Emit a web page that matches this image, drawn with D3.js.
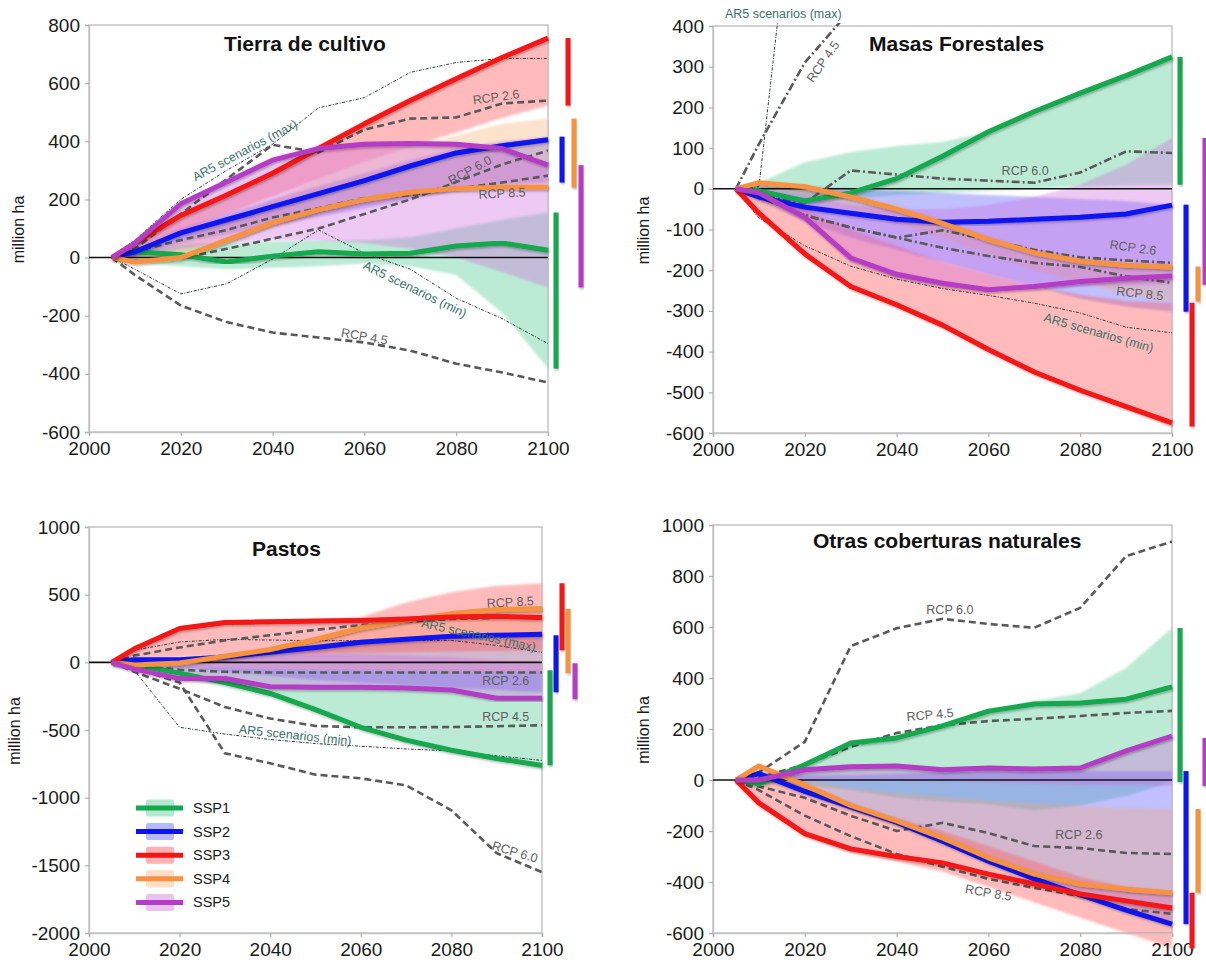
<!DOCTYPE html>
<html>
<head>
<meta charset="utf-8">
<script src="https://cdn.jsdelivr.net/npm/d3@7"></script>
<style>
  body { margin: 0; background: #fff; }
  svg text { font-family: "Liberation Sans", Arial, sans-serif; }
</style>
</head>
<body>
<svg id="chart" width="1206" height="963"></svg>
<script>
// years shared by every series
var years = [2005, 2010, 2020, 2030, 2040, 2050, 2060, 2070, 2080, 2090, 2100];
var sspNames = ["SSP1", "SSP2", "SSP3", "SSP4", "SSP5"];

// ---- Tierra de cultivo ----
var cropSSP1 = [0, 20, 10, -15, 5, 20, 12, 15, 40, 50, 25];
var cropSSP2 = [0, 20, 85, 130, 175, 220, 265, 315, 360, 385, 405];
var cropSSP3 = [0, 50, 145, 215, 290, 375, 460, 540, 615, 688, 755];
var cropSSP4 = [0, -15, 0, 60, 120, 165, 200, 225, 238, 242, 242];
var cropSSP5 = [0, 50, 185, 260, 335, 375, 390, 392, 390, 375, 318];
var cropLo = [
  [0, -15, -30, -40, -35, -30, -20, -30, -60, -190, -382],
  [0, 5, 50, 80, 110, 140, 170, 200, 230, 250, 258],
  [0, 15, 90, 150, 210, 270, 330, 380, 430, 480, 523],
  [0, -20, -5, 50, 100, 145, 180, 205, 228, 236, 240],
  [0, 0, 30, 50, 60, 60, 50, 30, 0, -50, -103]
];
var cropHi = [
  [0, 30, 45, 50, 55, 60, 60, 70, 100, 130, 155],
  [0, 30, 100, 150, 200, 245, 290, 335, 375, 400, 416],
  [0, 55, 155, 225, 300, 385, 470, 550, 625, 695, 755],
  [0, 10, 60, 130, 200, 270, 330, 380, 420, 460, 478],
  [0, 55, 190, 270, 345, 385, 395, 395, 392, 380, 318]
];
var cropRCP26 = [0, 30, 150, 270, 388, 362, 440, 478, 482, 530, 540];
var cropRCP45 = [0, -60, -165, -222, -258, -275, -292, -320, -365, -395, -430];
var cropRCP60 = [0, -10, -3, 30, 65, 100, 150, 200, 260, 320, 368];
var cropRCP85 = [0, 20, 60, 95, 138, 170, 205, 215, 237, 258, 282];
var cropAR5max = [0, 60, 200, 300, 390, 515, 550, 637, 671, 685, 685];
var cropAR5min = [0, -40, -125, -90, -5, 95, 15, -40, -140, -210, -296];

// ---- Masas Forestales ----
var forSSP1 = [0, -5, -30, -10, 25, 80, 140, 190, 235, 278, 324];
var forSSP2 = [0, -20, -45, -60, -75, -82, -80, -75, -70, -62, -40];
var forSSP3 = [0, -60, -160, -240, -285, -335, -395, -450, -495, -535, -575];
var forSSP4 = [0, 15, 5, -20, -50, -85, -125, -157, -178, -188, -192];
var forSSP5 = [0, -10, -70, -170, -210, -232, -248, -240, -228, -220, -214];
var forLo = [
  [0, -10, -35, -25, -15, -10, -5, 0, 5, 8, 10],
  [0, -30, -80, -120, -150, -180, -210, -240, -270, -290, -302],
  [0, -65, -165, -245, -290, -340, -400, -455, -500, -540, -584],
  [0, 0, -20, -50, -85, -120, -160, -200, -230, -260, -277],
  [0, -15, -80, -180, -220, -240, -250, -248, -240, -238, -236]
];
var forHi = [
  [0, 15, 65, 90, 105, 115, 140, 190, 235, 278, 324],
  [0, 5, 5, 0, -5, -10, -15, -20, -25, -30, -39],
  [0, -10, -50, -100, -140, -180, -210, -240, -260, -275, -280],
  [0, 18, 10, -10, -40, -75, -115, -150, -175, -188, -191],
  [0, 0, -20, -40, -50, -50, -40, -20, 10, 60, 125]
];
var forRCP26 = [0, -20, -65, -95, -120, -102, -125, -150, -168, -176, -182];
var forRCP45 = [0, 110, 310, 440, null, null, null, null, null, null, null];
var forRCP60 = [0, -15, -35, 45, 35, 25, 20, 15, 40, 92, 88];
var forRCP85 = [0, -20, -65, -95, -120, -145, -165, -182, -192, -215, -231];
var forAR5max = [0, 5, 1000, null, null, null, null, null, null, null, null];
var forAR5min = [0, -72, -140, -190, -222, -245, -262, -281, -305, -340, -354];

// ---- Pastos ----
var pasSSP1 = [0, -20, -80, -150, -230, -350, -480, -575, -650, -710, -762];
var pasSSP2 = [0, 20, 20, 40, 75, 110, 148, 170, 192, 200, 207];
var pasSSP3 = [0, 100, 250, 295, 300, 305, 310, 320, 335, 340, 332];
var pasSSP4 = [0, -20, -5, 45, 95, 170, 255, 310, 360, 390, 398];
var pasSSP5 = [0, -50, -120, -120, -180, -185, -185, -190, -205, -265, -265];
var pasLo = [
  [0, -25, -85, -155, -235, -355, -485, -580, -655, -715, -761],
  [0, -10, -40, -70, -100, -130, -150, -170, -190, -205, -221],
  [0, 20, 40, 50, 60, 65, 70, 75, 80, 85, 89],
  [0, -20, -30, -40, -50, -55, -60, -65, -70, -75, -81],
  [0, -55, -125, -125, -185, -190, -190, -195, -210, -270, -273]
];
var pasHi = [
  [0, -10, -30, -40, -50, -55, -55, -57, -58, -59, -59],
  [0, 25, 25, 45, 80, 115, 152, 175, 195, 202, 200],
  [0, 105, 255, 300, 305, 312, 335, 443, 517, 565, 584],
  [0, -10, 5, 50, 100, 175, 260, 315, 365, 390, 395],
  [0, 10, 30, 50, 60, 65, 60, 50, 40, 15, -7]
];
var pasRCP26 = [0, -20, -55, -70, -75, -75, -75, -75, -75, -75, -75];
var pasRCP45 = [0, -70, -195, -330, -415, -470, -480, -480, -478, -472, -465];
var pasRCP60 = [0, -40, -150, -672, -746, -830, -857, -909, -1093, -1410, -1551];
var pasRCP85 = [0, 50, 110, 162, 200, 240, 275, 300, 320, 330, 340];
var pasAR5max = [0, 90, 150, 170, 165, 160, 160, 162, 162, 125, 74];
var pasAR5min = [0, -60, -480, -530, -570, -600, -620, -640, -655, -690, -725];

// ---- Otras coberturas naturales ----
var othSSP1 = [0, -15, 60, 145, 165, 212, 270, 298, 302, 317, 365];
var othSSP2 = [0, 25, -45, -105, -165, -240, -318, -388, -450, -510, -565];
var othSSP3 = [0, -90, -210, -270, -300, -325, -369, -408, -447, -474, -502];
var othSSP4 = [0, 55, -20, -100, -160, -227, -305, -369, -408, -428, -442];
var othSSP5 = [0, 0, 40, 52, 55, 40, 47, 43, 47, 114, 172];
var othLo = [
  [0, -20, -20, -40, -70, -85, -95, -120, -100, -63, -8],
  [0, 20, -50, -110, -170, -245, -320, -390, -455, -515, -565],
  [0, -100, -220, -285, -320, -360, -420, -480, -540, -600, -660],
  [0, 50, -25, -105, -165, -230, -308, -372, -410, -430, -442],
  [0, -10, 0, 0, 0, -5, -10, -15, -20, -22, -24]
];
var othHi = [
  [0, 0, 70, 150, 175, 220, 275, 310, 340, 440, 596],
  [0, 30, 20, 20, 25, 30, 35, 35, 35, 35, 35],
  [0, 10, -20, -90, -150, -200, -260, -320, -380, -420, -442],
  [0, 60, 0, -30, -50, -65, -80, -90, -100, -110, -114],
  [0, 5, 42, 55, 58, 45, 50, 45, 50, 118, 165]
];
var othRCP26 = [0, -25, -70, -140, -200, -168, -208, -259, -267, -286, -290];
var othRCP45 = [0, 10, 60, 130, 184, 215, 231, 240, 251, 263, 271];
var othRCP60 = [0, 30, 150, 525, 595, 632, 612, 597, 675, 878, 935];
var othRCP85 = [0, -40, -140, -220, -290, -340, -388, -423, -455, -506, -525];

// annotation texts: [text, year, value, angle, kind]
var cropLabels = [
  ["AR5 scenarios (max)", 2034, 368, -28, "ar5"],
  ["RCP 2.6", 2088.7, 551, -8, "rcp"],
  ["RCP 6.0", 2083, 300, -28, "rcp"],
  ["RCP 8.5", 2090, 220, -3, "rcp"],
  ["AR5 scenarios (min)", 2071, -110, 26, "ar5"],
  ["RCP 4.5", 2060, -272, 10, "rcp"]
];
var forLabels = [
  ["AR5 scenarios (max)", 2015.3, 430, 0, "ar5"],
  ["RCP 4.5", 2024, 312, -55, "rcp"],
  ["RCP 6.0", 2068, 44, 0, "rcp"],
  ["RCP 2.6", 2091.5, -145, 8, "rcp"],
  ["RCP 8.5", 2093, -258, 6, "rcp"],
  ["AR5 scenarios (min)", 2084, -354, 16, "ar5"]
];
var pasLabels = [
  ["RCP 8.5", 2093, 443, -3, "rcp"],
  ["AR5 scenarios (max)", 2086, 200, 12, "ar5"],
  ["RCP 2.6", 2092, -140, 0, "rcp"],
  ["RCP 4.5", 2092, -406, 0, "rcp"],
  ["AR5 scenarios (min)", 2045.5, -539, 6, "ar5"],
  ["RCP 6.0", 2094, -1403, 17, "rcp"]
];
var othLabels = [
  ["RCP 6.0", 2051.6, 667, 0, "rcp"],
  ["RCP 4.5", 2047.3, 255, -5, "rcp"],
  ["RCP 2.6", 2079.7, -216, 0, "rcp"],
  ["RCP 8.5", 2060, -443, 10, "rcp"]
];

var lineColors = ["#12a84e", "#0a14f0", "#f51414", "#f7923f", "#b53cc6"];
var bandColors = ["#37c17f", "#5a5aff", "#ff5c5c", "#f9a566", "#cd6ade"];
var bandOpacity = [0.33, 0.38, 0.42, 0.32, 0.36];
var drawOrder = [0, 1, 3, 2, 4];
var barOffsets = [8, 14, 20, 26, 33];

var panels = [
  { id: 1, title: "Tierra de cultivo", left: 89, right: 548, top: 25, bottom: 432,
    yDomain: [-600, 800], step: 200, titleX: 224, titleY: 51, labelX: 18,
    ssp: [cropSSP1, cropSSP2, cropSSP3, cropSSP4, cropSSP5], lo: cropLo, hi: cropHi,
    rcp: [cropRCP26, cropRCP45, cropRCP60, cropRCP85], ar5: [cropAR5max, cropAR5min],
    dashDot: false, labels: cropLabels },
  { id: 2, title: "Masas Forestales", left: 713, right: 1172, top: 26, bottom: 433,
    yDomain: [-600, 400], step: 100, titleX: 869, titleY: 51, labelX: 643,
    ssp: [forSSP1, forSSP2, forSSP3, forSSP4, forSSP5], lo: forLo, hi: forHi,
    rcp: [forRCP26, forRCP45, forRCP60, forRCP85], ar5: [forAR5max, forAR5min],
    dashDot: true, labels: forLabels },
  { id: 3, title: "Pastos", left: 89, right: 542, top: 527, bottom: 933,
    yDomain: [-2000, 1000], step: 500, titleX: 252, titleY: 556, labelX: 14,
    ssp: [pasSSP1, pasSSP2, pasSSP3, pasSSP4, pasSSP5], lo: pasLo, hi: pasHi,
    rcp: [pasRCP26, pasRCP45, pasRCP60, pasRCP85], ar5: [pasAR5max, pasAR5min],
    dashDot: false, labels: pasLabels, legend: true },
  { id: 4, title: "Otras coberturas naturales", left: 713, right: 1172, top: 525, bottom: 933,
    yDomain: [-600, 1000], step: 200, titleX: 813, titleY: 548, labelX: 643,
    ssp: [othSSP1, othSSP2, othSSP3, othSSP4, othSSP5], lo: othLo, hi: othHi,
    rcp: [othRCP26, othRCP45, othRCP60, othRCP85], ar5: [],
    dashDot: false, labels: othLabels }
];

var svg = d3.select("#chart");
var defs = svg.append("defs");

var sh = defs.append("filter").attr("id", "shadow")
  .attr("x", "-10%").attr("y", "-10%").attr("width", "120%").attr("height", "120%");
sh.append("feDropShadow").attr("dx", 1.2).attr("dy", 1.5).attr("stdDeviation", 1.2)
  .attr("flood-color", "#000").attr("flood-opacity", 0.3);

var soft = defs.append("filter").attr("id", "soft");
soft.append("feGaussianBlur").attr("stdDeviation", 0.9);

// plain hyphen for negatives, as in the original figure
function plainNum(d) { return String(d); }

function zipSeries(vals) {
  return years.map(function (yr, i) { return [yr, vals[i]]; });
}

function drawPanel(p) {
  var x = d3.scaleLinear().domain([2000, 2100]).range([p.left, p.right]);
  var y = d3.scaleLinear().domain(p.yDomain).range([p.bottom, p.top]);
  var g = svg.append("g");

  defs.append("clipPath").attr("id", "clip" + p.id)
    .append("rect")
    .attr("x", p.left).attr("y", p.top - 3)
    .attr("width", p.right - p.left).attr("height", p.bottom - p.top + 3);

  // frame
  g.append("rect")
    .attr("x", p.left).attr("y", p.top)
    .attr("width", p.right - p.left).attr("height", p.bottom - p.top)
    .attr("fill", "none").attr("stroke", "#c4c4c4").attr("stroke-width", 1.5);

  // uncertainty bands
  var area = d3.area()
    .x(function (d) { return x(d.year); })
    .y0(function (d) { return y(d.lo); })
    .y1(function (d) { return y(d.hi); });
  drawOrder.forEach(function (k) {
    var rows = years.map(function (yr, i) { return { year: yr, lo: p.lo[k][i], hi: p.hi[k][i] }; });
    g.append("path").datum(rows)
      .attr("d", area)
      .attr("fill", bandColors[k]).attr("fill-opacity", bandOpacity[k])
      .attr("filter", "url(#soft)");
  });

  // axes
  var yTicks = d3.range(p.yDomain[0], p.yDomain[1] + 1, p.step);
  var yAxis = g.append("g").attr("transform", "translate(" + p.left + ",0)")
    .call(d3.axisLeft(y).tickValues(yTicks).tickFormat(plainNum).tickSize(4).tickPadding(5));
  var xAxis = g.append("g").attr("transform", "translate(0," + p.bottom + ")")
    .call(d3.axisBottom(x).tickValues([2000, 2020, 2040, 2060, 2080, 2100]).tickFormat(plainNum).tickSize(4).tickPadding(6));
  [yAxis, xAxis].forEach(function (a) {
    a.select(".domain").attr("stroke", "#c4c4c4").attr("stroke-width", 1.5);
    a.selectAll(".tick line").attr("stroke", "#b0b0b0").attr("stroke-width", 1.2);
    a.selectAll(".tick text").attr("fill", "#1a1a1a").attr("font-size", 19)
      .style("font-family", '"Liberation Sans", Arial, sans-serif');
  });

  // zero line
  g.append("line")
    .attr("x1", x(2000)).attr("x2", x(2100))
    .attr("y1", y(0)).attr("y2", y(0))
    .attr("stroke", "#111").attr("stroke-width", 1.6);

  var line = d3.line()
    .defined(function (d) { return d[1] != null; })
    .x(function (d) { return x(d[0]); })
    .y(function (d) { return y(d[1]); });

  var clipped = g.append("g").attr("clip-path", "url(#clip" + p.id + ")");

  // AR5 envelope
  p.ar5.forEach(function (vals) {
    clipped.append("path").datum(zipSeries(vals))
      .attr("d", line).attr("fill", "none")
      .attr("stroke", "#2b3b38").attr("stroke-width", 1)
      .attr("stroke-dasharray", "3,1.5,1,1.5");
  });

  // RCP pathways
  p.rcp.forEach(function (vals) {
    clipped.append("path").datum(zipSeries(vals))
      .attr("d", line).attr("fill", "none")
      .attr("stroke", "#595959").attr("stroke-width", 2.6)
      .attr("stroke-dasharray", p.dashDot ? "8,3,2,3" : "7,4");
  });

  // SSP markers
  drawOrder.forEach(function (k) {
    g.append("path").datum(zipSeries(p.ssp[k]))
      .attr("d", line).attr("fill", "none")
      .attr("stroke", lineColors[k]).attr("stroke-width", 5)
      .attr("stroke-linejoin", "round")
      .attr("filter", "url(#shadow)");
  });

  // 2100 range bars
  var last = years.length - 1;
  for (var k = 0; k < 5; k++) {
    var top = y(p.hi[k][last]), bot = y(p.lo[k][last]);
    g.append("rect")
      .attr("x", p.right + barOffsets[k] - 2.5).attr("width", 5)
      .attr("y", top).attr("height", bot - top)
      .attr("fill", lineColors[k]).attr("filter", "url(#shadow)");
  }

  // annotations
  p.labels.forEach(function (l) {
    g.append("text")
      .attr("transform", "translate(" + x(l[1]) + "," + y(l[2]) + ") rotate(" + l[3] + ")")
      .attr("text-anchor", "middle").attr("dominant-baseline", "central")
      .attr("font-size", 12.5)
      .attr("fill", l[4] === "ar5" ? "#3b716a" : "#5e5e5e")
      .text(l[0]);
  });

  // title
  g.append("text")
    .attr("x", p.titleX).attr("y", p.titleY)
    .attr("font-size", 21).attr("font-weight", "bold").attr("fill", "#111")
    .text(p.title);

  // y label
  g.append("text")
    .attr("transform", "translate(" + p.labelX + "," + ((p.top + p.bottom) / 2 + 1) + ") rotate(-90)")
    .attr("text-anchor", "middle").attr("dominant-baseline", "central")
    .attr("font-size", 16).attr("fill", "#1a1a1a")
    .text("million ha");

  if (p.legend) {
    var lg = g.append("g");
    sspNames.forEach(function (name, k) {
      var cy = 808 + k * 23.6;
      lg.append("rect")
        .attr("x", 146).attr("y", cy - 8.5).attr("width", 28).attr("height", 17).attr("rx", 2)
        .attr("fill", bandColors[k]).attr("fill-opacity", bandOpacity[k] + 0.05);
      lg.append("line")
        .attr("x1", 136).attr("x2", 183).attr("y1", cy).attr("y2", cy)
        .attr("stroke", lineColors[k]).attr("stroke-width", 5);
      lg.append("text")
        .attr("x", 193).attr("y", cy).attr("dominant-baseline", "central")
        .attr("font-size", 14.5).attr("fill", "#1a1a1a")
        .text(name);
    });
  }
}

panels.forEach(drawPanel);
</script>
</body>
</html>
